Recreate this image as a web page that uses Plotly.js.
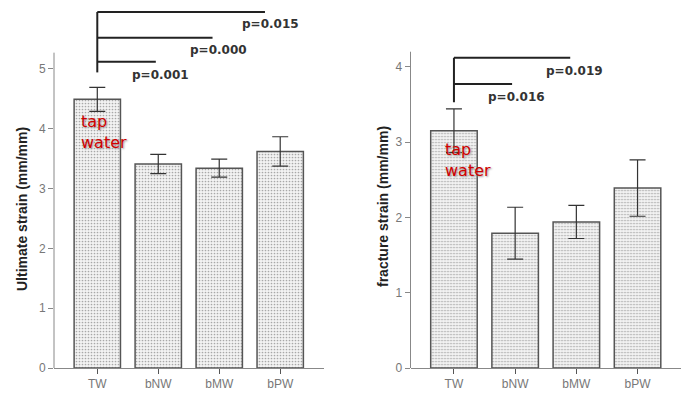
<!DOCTYPE html>
<html>
<head>
<meta charset="utf-8">
<script src="https://cdn.plot.ly/plotly-3.0.1.min.js"></script>
<style>html,body{margin:0;padding:0;background:#fff;}#chart{width:682px;height:396px;}</style>
</head>
<body>
<div id="chart"></div>
<script>
// ---- data ----
const categories = ["TW", "bNW", "bMW", "bPW"];
const ultimateStrain = [4.49, 3.41, 3.34, 3.62];
const ultimateErr = [0.20, 0.16, 0.15, 0.245];
const fractureStrain = [3.15, 1.79, 1.94, 2.39];
const fractureErr = [0.29, 0.345, 0.22, 0.375];

// significance brackets
const ultimateBracketY = [5.95, 5.52, 5.12];
const ultimateBracketEnd = [2.75, 1.89, 0.96];
const ultimateBracketBottom = 4.94;
const ultimatePLabels = ["p=0.015", "p=0.000", "p=0.001"];
const ultimatePLabelX = [2.34, 1.48, 0.53];
const ultimatePLabelY = [5.75, 5.32, 4.90];

const fractureBracketY = [4.12, 3.77];
const fractureBracketEnd = [1.90, 0.95];
const fractureBracketBottom = 3.53;
const fracturePLabels = ["p=0.019", "p=0.016"];
const fracturePLabelX = [1.47, 0.53];
const fracturePLabelY = [3.94, 3.60];

const yTicks1 = [0, 1, 2, 3, 4, 5];
const yTicks2 = [0, 1, 2, 3, 4];

// ---- styling ----
const barMarker = {
  color: "#ededed",
  line: {color: "#555", width: 1.5},
  pattern: {shape: ".", fgcolor: "#a8a8a8", bgcolor: "#f3f3f3", size: 3, solidity: 0.25}
};
const errStyle = {type: "data", visible: true, color: "#333", thickness: 1.2, width: 8};

const traces = [
  {type: "bar", x: [0,1,2,3], y: ultimateStrain, error_y: Object.assign({array: ultimateErr}, errStyle),
   marker: barMarker, width: 0.76, xaxis: "x", yaxis: "y", hoverinfo: "skip", showlegend: false},
  {type: "bar", x: [0,1,2,3], y: fractureStrain, error_y: Object.assign({array: fractureErr}, errStyle),
   marker: barMarker, width: 0.76, xaxis: "x2", yaxis: "y2", hoverinfo: "skip", showlegend: false}
];

const shapes = [];
const annotations = [];
const brLine = {color: "#222", width: 2};

function addBrackets(xr, yr, ys, ends, bottom) {
  shapes.push({type: "line", xref: xr, yref: yr, x0: 0, x1: 0, y0: bottom, y1: Math.max(...ys), line: brLine});
  ys.forEach((y, i) => {
    shapes.push({type: "line", xref: xr, yref: yr, x0: 0, x1: ends[i], y0: y, y1: y, line: brLine});
  });
}
addBrackets("x", "y", ultimateBracketY, ultimateBracketEnd, ultimateBracketBottom);
addBrackets("x2", "y2", fractureBracketY, fractureBracketEnd, fractureBracketBottom);

// y axis lines
shapes.push({type: "line", xref: "x domain", yref: "y", x0: 0, x1: 0, y0: 0, y1: 5.27, line: {color: "#888", width: 1}});
shapes.push({type: "line", xref: "x2 domain", yref: "y2", x0: 0, x1: 0, y0: 0, y1: 4.2, line: {color: "#888", width: 1}});

const pFont = {family: "DejaVu Sans", size: 12, color: "#333", weight: "bold"};
ultimatePLabels.forEach((t, i) => annotations.push({xref: "x", yref: "y", x: ultimatePLabelX[i], y: ultimatePLabelY[i],
  text: "<b>" + t + "</b>", showarrow: false, xanchor: "left", yanchor: "middle", font: pFont}));
fracturePLabels.forEach((t, i) => annotations.push({xref: "x2", yref: "y2", x: fracturePLabelX[i], y: fracturePLabelY[i],
  text: "<b>" + t + "</b>", showarrow: false, xanchor: "left", yanchor: "middle", font: pFont}));

const tapFont = {family: "DejaVu Sans", size: 16, color: "#d00000", shadow: "1px 1px 2px #999"};
annotations.push({xref: "x", yref: "y", x: -0.30, y: 3.95, text: "tap<br>water", showarrow: false,
  xanchor: "left", yanchor: "middle", align: "left", font: tapFont});
annotations.push({xref: "x2", yref: "y2", x: -0.18, y: 2.76, text: "tap<br>water", showarrow: false,
  xanchor: "left", yanchor: "middle", align: "left", font: tapFont});

const titleFont = {family: "Liberation Sans, Arial, sans-serif", size: 14, color: "#222"};
annotations.push({xref: "paper", yref: "paper", x: 22/682, y: (368-209)/368, text: "<b>Ultimate strain (mm/mm)</b>",
  textangle: -90, showarrow: false, xanchor: "center", yanchor: "middle", font: titleFont});
annotations.push({xref: "paper", yref: "paper", x: 383/682, y: (368-206)/368, text: "<b>fracture strain (mm/mm)</b>",
  textangle: -90, showarrow: false, xanchor: "center", yanchor: "middle", font: titleFont});

const tickFont = {family: "Liberation Sans, Arial, sans-serif", size: 12, color: "#777"};
const xaxisBase = {range: [-0.71, 3.71], tickvals: [0,1,2,3], ticktext: categories, showline: true, linecolor: "#888",
  linewidth: 1, ticks: "outside", ticklen: 5, tickcolor: "#555", showgrid: false, zeroline: false, tickfont: tickFont, fixedrange: true};
const yaxisBase = {showline: false, ticks: "outside", ticklen: 5, tickcolor: "#888", showgrid: false, zeroline: false,
  tickfont: tickFont, fixedrange: true, domain: [0, 1]};

const layout = {
  width: 682, height: 396,
  margin: {l: 0, r: 0, t: 0, b: 28},
  paper_bgcolor: "#fff", plot_bgcolor: "rgba(0,0,0,0)",
  bargap: 0.24,
  xaxis: Object.assign({}, xaxisBase, {domain: [54/682, 323.5/682], anchor: "y"}),
  yaxis: Object.assign({}, yaxisBase, {range: [0, 6.15], tickvals: yTicks1, anchor: "x"}),
  xaxis2: Object.assign({}, xaxisBase, {domain: [410.5/682, 681/682], anchor: "y2"}),
  yaxis2: Object.assign({}, yaxisBase, {range: [0, 4.887], tickvals: yTicks2, anchor: "x2"}),
  shapes: shapes,
  annotations: annotations,
  showlegend: false
};

Plotly.newPlot("chart", traces, layout, {staticPlot: true, displayModeBar: false});
</script>
</body>
</html>
